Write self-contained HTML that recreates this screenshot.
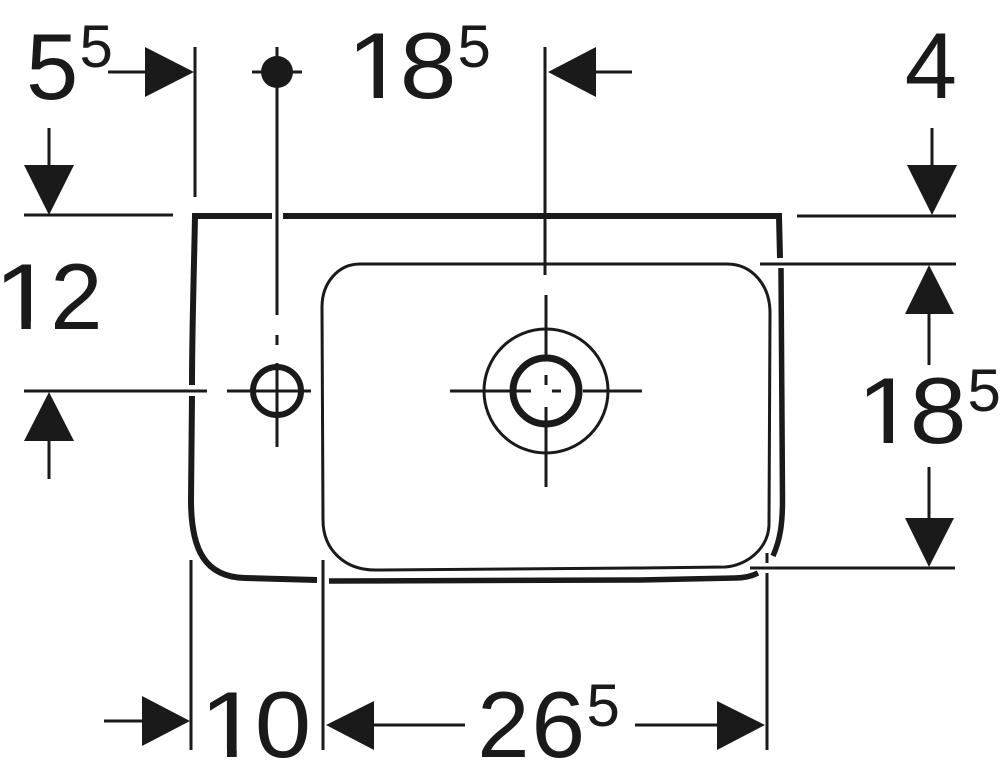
<!DOCTYPE html>
<html>
<head>
<meta charset="utf-8">
<style>
html,body{margin:0;padding:0;background:#fff;}
svg{display:block;}
text{font-family:"Liberation Sans",sans-serif;fill:#1a1a1a;}
.b{font-size:94px;}
.s{font-size:60px;}
</style>
</head>
<body>
<svg width="1000" height="780" viewBox="0 0 1000 780" xmlns="http://www.w3.org/2000/svg">
<defs>
  <clipPath id="c1"><rect x="340" y="25" width="60" height="65.4"/><rect x="373.6" y="90" width="9.4" height="10"/></clipPath>
  <clipPath id="c2"><rect x="850" y="370" width="60" height="65.4"/><rect x="883.6" y="435" width="9.4" height="10"/></clipPath>
  <clipPath id="c3"><rect x="-10" y="256" width="60" height="65.4"/><rect x="21.4" y="321" width="9.4" height="10"/></clipPath>
  <clipPath id="c4"><rect x="195" y="684" width="60" height="65.4"/><rect x="227" y="749" width="9.7" height="10"/></clipPath>
</defs>
<g fill="none" stroke="#1a1a1a" stroke-width="6">
  <path d="M272 216H195C194 270 192 330 192 385"/>
  <path d="M283 216H779L780 258"/>
  <path d="M781 268L782.5 500C782.5 525 780 540 773 556" stroke-width="5.5"/>
  <path d="M192 396L191 500C191 550 205 577 245 578L317 580"/>
  <path d="M329 581L640 580L735 578C745 578 752 576 758 573" stroke-width="5.5"/>
</g>
<g fill="none" stroke="#1a1a1a" stroke-width="3">
  <path d="M322 307C322 283 338 264 360 264H727C752 264 770 285 770 313L769 525C768 550 745 566 725 567L640 568L375 570C345 570 323 550 323 520Z"/>
  <circle cx="546" cy="391" r="62"/>
</g>
<g fill="none" stroke="#1a1a1a">
  <circle cx="546" cy="391" r="33" stroke-width="7"/>
  <circle cx="277" cy="391" r="24" stroke-width="6"/>
</g>
<g fill="none" stroke="#1a1a1a" stroke-width="3">
  <path d="M108 72H146M195 47V197M24 215H173M49 128V166"/>
  <path d="M277 47V315M252 72H302M277 335V345M277 363V447M227 391H311"/>
  <path d="M24 391H207M49 440V479"/>
  <path d="M545 47V275M546 295V355M546 407V487M450 391H531M583 391H642M546 375V385M552 391H561M596 72H632"/>
  <path d="M797 216H956M760 264H956M750 568H955M932 128V166M929 313V365M929 467V519"/>
  <path d="M191 560V750M323 560V750M767 553V563M767 573V750"/>
  <path d="M104 721H143M373 725H465M635 725H718"/>
</g>
<g fill="#1a1a1a" stroke="none">
  <circle cx="277" cy="72" r="16"/>
  <polygon points="145,47 194,72 145,97"/>
  <polygon points="24,165 74,165 49,215"/>
  <polygon points="24,441 74,441 49,392"/>
  <polygon points="596,47 548,72 596,97"/>
  <polygon points="907,165 957,165 932,215"/>
  <polygon points="905,314 954,314 929,265"/>
  <polygon points="905,518 954,518 929,567"/>
  <polygon points="142,696 190,721 142,746"/>
  <polygon points="374,701 326,725 374,750"/>
  <polygon points="717,701 765,725 717,750"/>
</g>

<!-- 5^5 -->
<text class="b" x="26" y="99">5</text>
<text class="s" x="79.5" y="67">5</text>

<!-- 18^5 top -->
<g clip-path="url(#c1)"><text class="b" transform="translate(346.7 98) scale(1.135 1)">1</text></g>
<text class="b" transform="translate(399.7 98) scale(1.086 1)">8</text>
<text class="s" x="457.5" y="67">5</text>

<!-- 4 -->
<text class="b" x="904.8" y="98">4</text>

<!-- 12 -->
<g clip-path="url(#c3)"><text class="b" transform="translate(-6.2 329) scale(1.166 1)">1</text></g>
<text class="b" x="50.3" y="329">2</text>

<!-- 18^5 right -->
<g clip-path="url(#c2)"><text class="b" transform="translate(856.7 443) scale(1.135 1)">1</text></g>
<text class="b" transform="translate(909.6 443) scale(1.09 1)">8</text>
<text class="s" x="967.5" y="411">5</text>

<!-- 10 -->
<g clip-path="url(#c4)"><text class="b" transform="translate(199.5 757) scale(1.16 1)">1</text></g>
<text class="b" transform="translate(254.8 757) scale(1.08 1)">0</text>

<!-- 26^5 -->
<text class="b" x="477.3" y="757">2</text>
<text class="b" transform="translate(531.4 757) scale(1.03 1)">6</text>
<text class="s" x="586.5" y="726">5</text>
</svg>
</body>
</html>
